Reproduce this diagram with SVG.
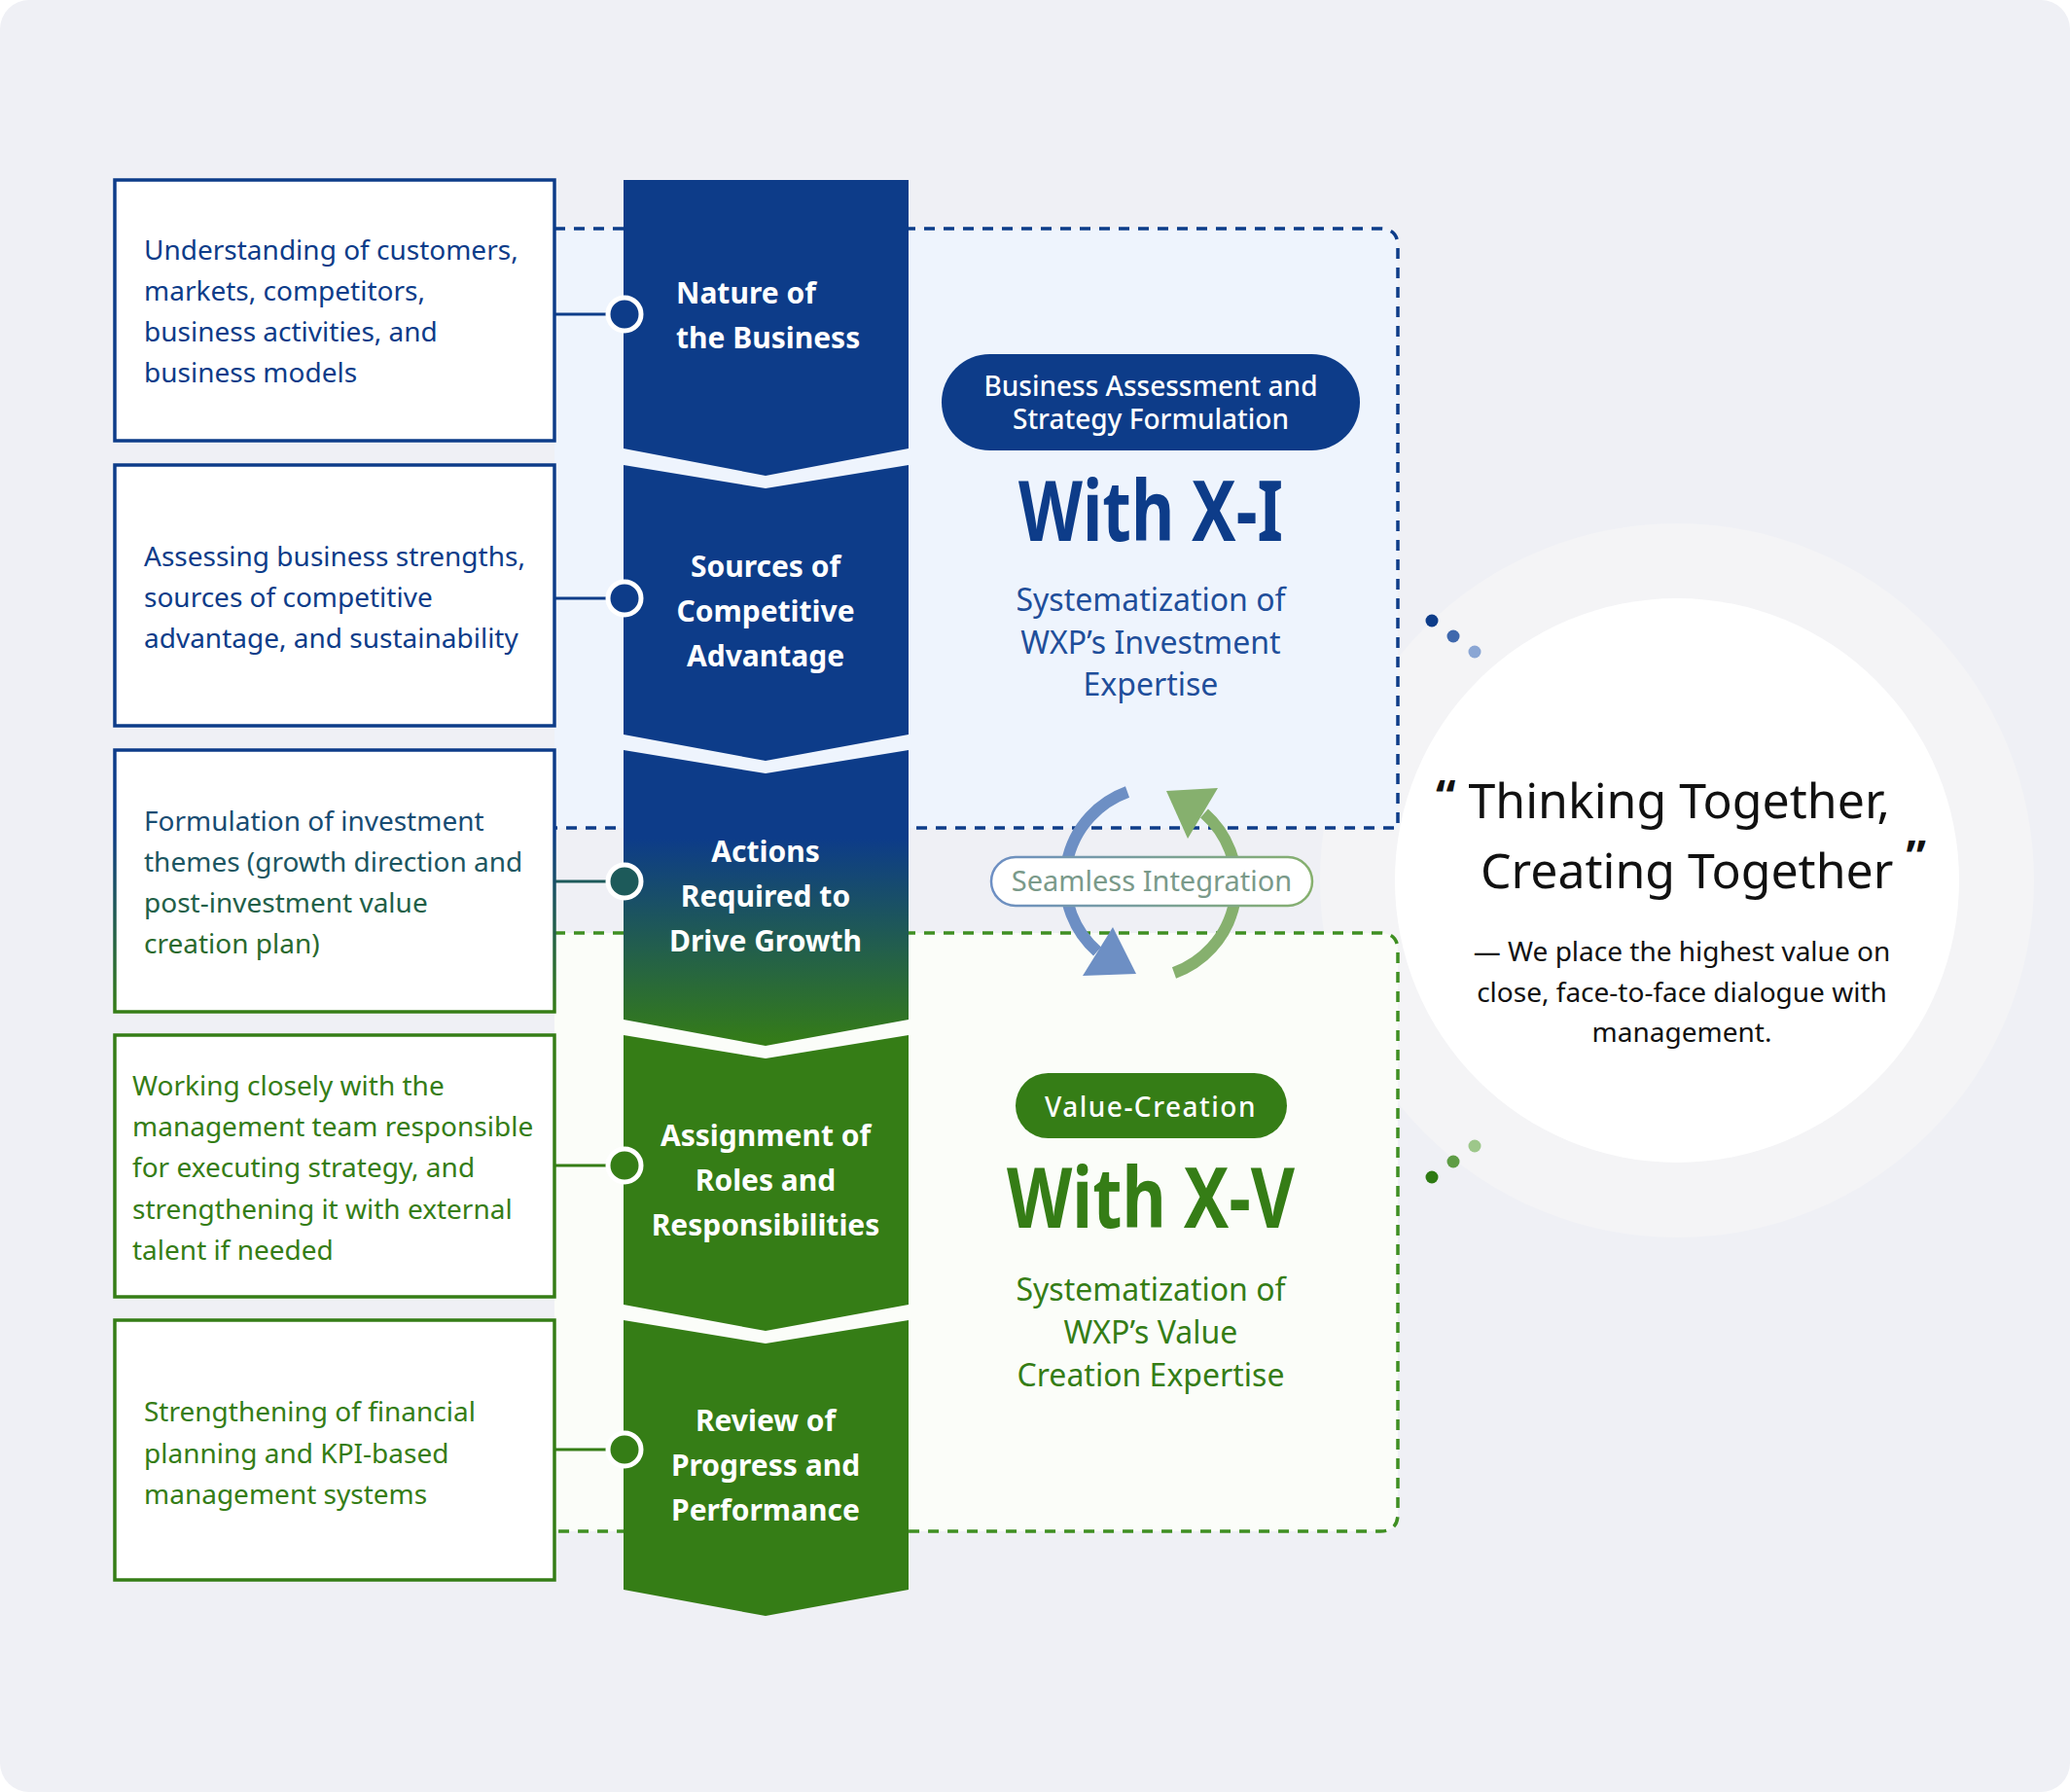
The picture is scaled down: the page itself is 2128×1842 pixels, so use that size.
<svg xmlns="http://www.w3.org/2000/svg" width="2128" height="1842" viewBox="0 0 2128 1842">
<style>
.bt{font-family:"Noto Sans","Open Sans",sans-serif;font-size:28px}
.ct{font-family:"Noto Sans","Open Sans",sans-serif;font-size:30px;font-weight:bold;fill:#fff;text-anchor:middle}
.big{font-family:"Noto Sans","Liberation Sans",sans-serif;font-weight:bold;font-size:86px;text-anchor:middle}
.sub{font-family:"Noto Sans","Open Sans",sans-serif;font-size:32px;text-anchor:middle}
.box{fill:#fff;stroke-width:3.5}
.dot{stroke:#fff;stroke-width:5}
</style>
<defs>
<linearGradient id="gc" x1="0" y1="0" x2="0" y2="1"><stop offset="0.3" stop-color="#0d3c89"/><stop offset="1" stop-color="#357d16"/></linearGradient>
<linearGradient id="gs" x1="0" y1="0" x2="1" y2="0"><stop offset="0" stop-color="#6d8fc4"/><stop offset="1" stop-color="#86b06e"/></linearGradient>
</defs>
<rect x="0" y="0" width="2128" height="1842" rx="30" fill="#eff0f5"/>
<circle cx="1724" cy="905" r="367" fill="#f4f4f6"/>
<circle cx="1724" cy="905" r="290" fill="#fff"/>
<g id="regions">
<path d="M570 235 H1419 Q1437 235 1437 253 V851 H570 Z" fill="#eef4fd"/>
<path d="M570 235 H1419 Q1437 235 1437 253 V851 H570" fill="none" stroke="#0d3c89" stroke-width="3.5" stroke-dasharray="11 9"/>
<path d="M570 959 H1419 Q1437 959 1437 977 V1556 Q1437 1574 1419 1574 H570 Z" fill="#fbfdf9"/>
<path d="M570 959 H1419 Q1437 959 1437 977 V1556 Q1437 1574 1419 1574 H570" fill="none" stroke="#3f8f22" stroke-width="3.5" stroke-dasharray="11 9"/>
</g>
<g id="connectors">
<line x1="565" y1="185" x2="565" y2="1624" stroke="url(#gc)" stroke-width="3"/>
<line x1="570" y1="323" x2="642" y2="323" stroke="#0d3c89" stroke-width="3"/>
<line x1="570" y1="615" x2="642" y2="615" stroke="#0d3c89" stroke-width="3"/>
<line x1="570" y1="906" x2="642" y2="906" stroke="#1d5a5a" stroke-width="3"/>
<line x1="570" y1="1198" x2="642" y2="1198" stroke="#357d16" stroke-width="3"/>
<line x1="570" y1="1490" x2="642" y2="1490" stroke="#357d16" stroke-width="3"/>
</g>
<g id="box1"><rect class="box" x="118" y="185" width="452" height="268" stroke="#0d3c89"/>
<text class="bt" fill="#0d3c89"><tspan x="148" y="267">Understanding of customers,</tspan><tspan x="148" y="309">markets, competitors,</tspan><tspan x="148" y="351">business activities, and</tspan><tspan x="148" y="393">business models</tspan></text></g>
<g id="box2"><rect class="box" x="118" y="478" width="452" height="268" stroke="#0d3c89"/>
<text class="bt" fill="#0d3c89"><tspan x="148" y="582">Assessing business strengths,</tspan><tspan x="148" y="624">sources of competitive</tspan><tspan x="148" y="666">advantage, and sustainability</tspan></text></g>
<g id="box3"><rect class="box" x="118" y="771" width="452" height="269" stroke="url(#gc)"/>
<text class="bt"><tspan x="148" y="854" fill="#184c72">Formulation of investment</tspan><tspan x="148" y="896" fill="#1c5661">themes (growth direction and</tspan><tspan x="148" y="938" fill="#225f48">post-investment value</tspan><tspan x="148" y="980" fill="#2a6a2e">creation plan)</tspan></text></g>
<g id="box4"><rect class="box" x="118" y="1064" width="452" height="269" stroke="#357d16"/>
<text class="bt" fill="#357d16"><tspan x="136" y="1126">Working closely with the</tspan><tspan x="136" y="1168">management team responsible</tspan><tspan x="136" y="1210">for executing strategy, and</tspan><tspan x="136" y="1253">strengthening it with external</tspan><tspan x="136" y="1295">talent if needed</tspan></text></g>
<g id="box5"><rect class="box" x="118" y="1357" width="452" height="267" stroke="#357d16"/>
<text class="bt" fill="#357d16"><tspan x="148" y="1461">Strengthening of financial</tspan><tspan x="148" y="1504">planning and KPI-based</tspan><tspan x="148" y="1546">management systems</tspan></text></g>
<g id="chev1"><path d="M641 185 H934 V461 L787 489 L641 461 Z" fill="#0d3c89"/>
<text class="ct" style="text-anchor:start"><tspan x="695" y="312">Nature of</tspan><tspan x="695" y="358">the Business</tspan></text></g>
<g id="chev2"><path d="M641 478 L787 502 L934 478 V755 L787 782 L641 755 Z" fill="#0d3c89"/>
<text class="ct"><tspan x="787" y="593">Sources of</tspan><tspan x="787" y="639">Competitive</tspan><tspan x="787" y="685">Advantage</tspan></text></g>
<g id="chev3"><path d="M641 771 L787 795 L934 771 V1048 L787 1075 L641 1048 Z" fill="url(#gc)"/>
<text class="ct"><tspan x="787" y="886">Actions</tspan><tspan x="787" y="932">Required to</tspan><tspan x="787" y="978">Drive Growth</tspan></text></g>
<g id="chev4"><path d="M641 1064 L787 1088 L934 1064 V1341 L787 1368 L641 1341 Z" fill="#357d16"/>
<text class="ct"><tspan x="787" y="1178">Assignment of</tspan><tspan x="787" y="1224">Roles and</tspan><tspan x="787" y="1270">Responsibilities</tspan></text></g>
<g id="chev5"><path d="M641 1357 L787 1381 L934 1357 V1634 L787 1661 L641 1634 Z" fill="#357d16"/>
<text class="ct"><tspan x="787" y="1471">Review of</tspan><tspan x="787" y="1517">Progress and</tspan><tspan x="787" y="1563">Performance</tspan></text></g>
<g id="dots">
<circle class="dot" cx="642" cy="323" r="17" fill="#0d3c89"/>
<circle class="dot" cx="642" cy="615" r="17" fill="#0d3c89"/>
<circle class="dot" cx="642" cy="906" r="17" fill="#1d5a5a"/>
<circle class="dot" cx="642" cy="1198" r="17" fill="#357d16"/>
<circle class="dot" cx="642" cy="1490" r="17" fill="#357d16"/>
</g>
<g id="xi">
<rect x="968" y="364" width="430" height="99" rx="49.5" fill="#0d3c89"/>
<text font-family="Noto Sans, sans-serif" font-size="28" font-weight="500" fill="#fff" text-anchor="middle"><tspan x="1183" y="407">Business Assessment and</tspan><tspan x="1183" y="441">Strategy Formulation</tspan></text>
<text class="big" x="1183" y="556" fill="#0d3c89" textLength="272" lengthAdjust="spacingAndGlyphs">With X-I</text>
<text class="sub" fill="#1f4e9a"><tspan x="1183" y="628">Systematization of</tspan><tspan x="1183" y="672">WXP’s Investment</tspan><tspan x="1183" y="715">Expertise</tspan></text>
</g>
<g id="xv">
<rect x="1044" y="1103" width="279" height="67" rx="33.5" fill="#357d16"/>
<text x="1183" y="1148" font-family="Noto Sans, sans-serif" font-size="28" font-weight="500" fill="#fff" text-anchor="middle" letter-spacing="1.5">Value-Creation</text>
<text class="big" x="1183" y="1262" fill="#357d16" textLength="296" lengthAdjust="spacingAndGlyphs">With X-V</text>
<text class="sub" fill="#357d16"><tspan x="1183" y="1337">Systematization of</tspan><tspan x="1183" y="1381">WXP’s Value</tspan><tspan x="1183" y="1425">Creation Expertise</tspan></text>
</g>
<g id="cycle">
<path d="M1159 814 A97 97 0 0 0 1128 978" fill="none" stroke="#6d8fc4" stroke-width="12"/>
<polygon points="1144,953 1168,1001 1113,1003" fill="#6d8fc4"/>
<path d="M1207 1000 A97 97 0 0 0 1238 836" fill="none" stroke="#86b06e" stroke-width="12"/>
<polygon points="1199,813 1252,810 1221,862" fill="#86b06e"/>
<rect x="1019" y="881" width="330" height="50" rx="25" fill="#fff" stroke="url(#gs)" stroke-width="2.5"/>
<text x="1184" y="916" font-family="Noto Sans, sans-serif" font-size="29" fill="#7a9a8a" text-anchor="middle">Seamless Integration</text>
</g>
<g id="quote">
<circle cx="1472" cy="638" r="6.5" fill="#0d3c89"/><circle cx="1494" cy="654" r="6.5" fill="#3f68ad"/><circle cx="1516" cy="670" r="6.5" fill="#8aa6d4"/>
<circle cx="1472" cy="1210" r="6.5" fill="#2e7a12"/><circle cx="1494" cy="1194" r="6.5" fill="#5e9c45"/><circle cx="1516" cy="1178" r="6.5" fill="#9dc78a"/>
<text font-family="Noto Sans, sans-serif" font-size="50" fill="#111"><tspan x="1476" y="841"><tspan font-size="46" font-weight="bold" dy="-6">“</tspan><tspan dy="6"> Thinking Together,</tspan></tspan><tspan x="1522" y="913">Creating Together <tspan font-size="46" font-weight="bold" dy="-16">”</tspan></tspan></text>
<text font-family="Noto Sans, sans-serif" font-size="28" fill="#111" text-anchor="middle"><tspan x="1729" y="988">— We place the highest value on</tspan><tspan x="1729" y="1030">close, face-to-face dialogue with</tspan><tspan x="1729" y="1071">management.</tspan></text>
</g>
</svg>
